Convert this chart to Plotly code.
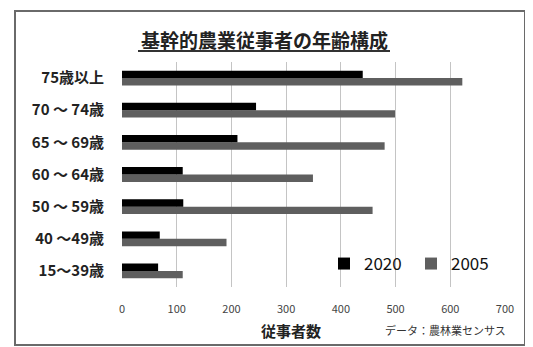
import plotly.graph_objects as go

categories = ["15～39歳", "40 ～49歳", "50 ～ 59歳", "60 ～ 64歳", "65 ～ 69歳", "70 ～ 74歳", "75歳以上"]
values_2020 = [66, 69, 112, 111, 211, 245, 440]
values_2005 = [111, 191, 458, 349, 480, 499, 622]
x_ticks = [0, 100, 200, 300, 400, 500, 600, 700]

FONT = "Noto Sans CJK JP"
OFF = 8  # page body margin
W, H = 533 - OFF, 347 - OFF
PLOT_X0, PLOT_X1, PLOT_Y0, PLOT_Y1 = 122, 505, 62, 287
L, T = PLOT_X0 - OFF, PLOT_Y0 - OFF
PW, PH = PLOT_X1 - PLOT_X0, PLOT_Y1 - PLOT_Y0
R, B = W - L - PW, H - T - PH

def px(x):
    return (x - PLOT_X0) / PW

def py(y):
    return (PLOT_Y1 - y) / PH

fig = go.Figure()
fig.add_trace(go.Bar(y=categories, x=values_2005, orientation="h", name="2005",
                     marker=dict(color="#5f5f5f", line=dict(width=0))))
fig.add_trace(go.Bar(y=categories, x=values_2020, orientation="h", name="2020",
                     marker=dict(color="#000000", line=dict(width=0))))

fig.update_layout(
    width=W, height=H,
    margin=dict(l=L, r=R, t=T, b=B, autoexpand=False),
    paper_bgcolor="white", plot_bgcolor="white",
    barmode="group", bargap=0.54, bargroupgap=0,
    showlegend=True,
    legend=dict(orientation="h", traceorder="reversed", x=px(324), xanchor="left",
                y=py(264), yanchor="middle", entrywidth=42, entrywidthmode="pixels",
                font=dict(family=FONT, size=17, color="#111"), bgcolor="rgba(0,0,0,0)"),
    font=dict(family=FONT),
    xaxis=dict(range=[0, 700], tickvals=x_ticks, showgrid=True, gridcolor="#c4c4c4", gridwidth=1,
               zeroline=False, showline=False, ticks="", ticklabelstandoff=14,
               automargin=False,
               tickfont=dict(family=FONT, size=11, color="#444")),
    yaxis=dict(type="category", categoryorder="array", categoryarray=categories,
               showgrid=False, zeroline=False, showline=False, ticks="", ticklabelstandoff=17,
               automargin=False,
               tickfont=dict(family=FONT, size=15, color="#222", weight="bold")),
    shapes=[
        dict(type="rect", xref="paper", yref="paper", x0=px(15), x1=px(525), y0=py(345), y1=py(11),
             line=dict(color="#6a6a6a", width=2), fillcolor="rgba(0,0,0,0)", layer="below"),
        dict(type="line", xref="paper", yref="paper", x0=px(138), x1=px(390), y0=py(51), y1=py(51),
             line=dict(color="#333", width=2)),
    ],
    annotations=[
        dict(text="<b>基幹的農業従事者の年齢構成</b>", xref="paper", yref="paper", x=px(264), y=py(39),
             xanchor="center", yanchor="middle", showarrow=False,
             font=dict(family=FONT, size=19, color="#222")),
        dict(text="<b>従事者数</b>", xref="paper", yref="paper", x=px(291), y=py(330),
             xanchor="center", yanchor="middle", showarrow=False,
             font=dict(family=FONT, size=15, color="#222")),
        dict(text="データ：農林業センサス", xref="paper", yref="paper", x=px(508), y=py(330),
             xanchor="right", yanchor="middle", showarrow=False,
             font=dict(family=FONT, size=11, color="#333")),
    ],
)

fig.write_html("out.html")
